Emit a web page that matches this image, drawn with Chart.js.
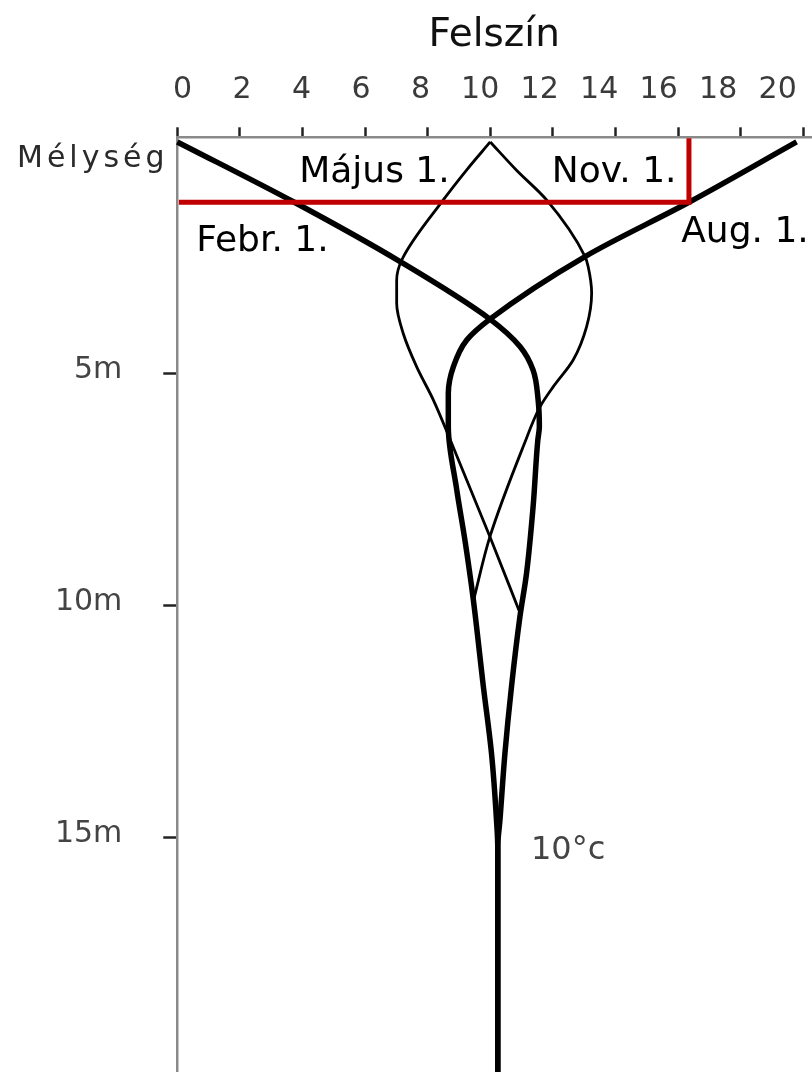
<!DOCTYPE html>
<html>
<head>
<meta charset="utf-8">
<script src="https://cdn.jsdelivr.net/npm/chart.js@4.4.1/dist/chart.umd.min.js"></script>
<style>
  html, body { margin: 0; padding: 0; background: #ffffff; }
  #wrap { width: 812px; height: 1072px; }
  canvas { display: block; }
</style>
</head>
<body>
<div id="wrap"><canvas id="soil" width="812" height="1072"></canvas></div>
<script>
// Temperature axis (°C) and depth axis (m)
const tempTicks = [0, 2, 4, 6, 8, 10, 12, 14, 16, 18, 20];
const depthTicks = [5, 10, 15];
const tempTitle = 'Felszín';
const depthTitle = 'Mélység';
const deepLabel = '10°c';

// Soil temperature profiles: depth (m) and temperature (°C)
const febrDepth = [0, 1.29, 2.58, 3.82, 4.41, 4.92, 5.56, 6.14, 6.43, 7.86, 9.30, 10.23, 11.74, 13.18, 14.62, 15.2, 20.05];
const febrTemp  = [0, 3.71, 7.12, 9.99, 10.95, 11.37, 11.53, 11.57, 11.52, 11.37, 11.16, 10.95, 10.68, 10.47, 10.31, 10.24, 10.24];

const majDepth = [0, 0.6, 1.25, 2.55, 2.98, 3.48, 4.13, 4.85, 5.56, 6.50, 8.51, 10.1];
const majTemp  = [10.0, 9.25, 8.50, 7.17, 7.01, 7.01, 7.22, 7.65, 8.18, 8.77, 9.99, 10.92];

const augDepth = [0, 1.29, 2.47, 3.82, 4.27, 4.85, 5.42, 6.14, 7.50, 8.58, 9.87, 11.74, 13.18, 14.62, 15.2, 20.05];
const augTemp  = [19.79, 16.38, 13.03, 9.99, 9.25, 8.82, 8.66, 8.66, 8.93, 9.19, 9.46, 9.78, 10.04, 10.20, 10.24, 10.24];

const novDepth = [0, 0.61, 1.25, 2.47, 2.69, 3.26, 3.98, 4.70, 5.28, 5.71, 6.54, 8.51, 9.9];
const novTemp  = [10.0, 10.84, 11.80, 13.03, 13.13, 13.24, 13.08, 12.65, 12.01, 11.59, 11.07, 9.99, 9.46];

// Highlight frame around the top layer
const frameTemp  = [0.05, 16.35, 16.35];
const frameDepth = [1.3, 1.3, -0.08];

// Curve names and where they are written (temperature, depth of baseline)
const curveNames = ['Febr. 1.', 'Május 1.', 'Aug. 1.', 'Nov. 1.'];
const nameTemp   = [2.72, 6.30, 18.14, 13.96];
const nameDepth  = [2.345, 0.858, 2.151, 0.858];
const deepLabelTemp = 12.49;
const deepLabelDepth = 15.46;

const FONT = 'DejaVu Sans';

function pts(t, d) { return t.map((v, i) => ({ x: v, y: d[i] })); }

function curve(label, t, d, width) {
  return {
    label,
    data: pts(t, d),
    borderColor: '#000000',
    borderWidth: width,
    pointRadius: 0,
    cubicInterpolationMode: 'monotone',
    fill: false,
    clip: false,
    order: 1
  };
}

// keep the axes from reserving room for label overflow
function noOverflow(s) {
  s.paddingTop = 0; s.paddingBottom = 0; s.paddingLeft = 0; s.paddingRight = 0;
}

const textPlugin = {
  id: 'profileText',
  afterDatasetsDraw(chart) {
    const ctx = chart.ctx;
    const xs = chart.scales.x, ys = chart.scales.y;
    ctx.save();
    ctx.fillStyle = '#000000';
    ctx.font = '36px "' + FONT + '"';
    ctx.textAlign = 'center';
    ctx.textBaseline = 'alphabetic';
    curveNames.forEach((n, i) => {
      ctx.fillText(n, xs.getPixelForValue(nameTemp[i]), ys.getPixelForValue(nameDepth[i]));
    });
    ctx.fillStyle = '#444444';
    ctx.font = '32px "' + FONT + '"';
    ctx.fillText(deepLabel, xs.getPixelForValue(deepLabelTemp), ys.getPixelForValue(deepLabelDepth));
    // depth axis caption, left of the surface line
    ctx.fillStyle = '#2a2a2a';
    ctx.font = '30px "' + FONT + '"';
    ctx.textAlign = 'left';
    ctx.letterSpacing = '4px';
    ctx.fillText(depthTitle, 17, ys.getPixelForValue(0.53));
    ctx.restore();
  }
};

new Chart(document.getElementById('soil'), {
  type: 'line',
  data: {
    datasets: [
      {
        label: 'frame',
        data: pts(frameTemp, frameDepth),
        borderColor: '#c00000',
        borderWidth: 5,
        pointRadius: 0,
        tension: 0,
        fill: false,
        clip: false,
        order: 0
      },
      curve(curveNames[0], febrTemp, febrDepth, 5.5),
      curve(curveNames[1], majTemp, majDepth, 2.8),
      curve(curveNames[2], augTemp, augDepth, 5.5),
      curve(curveNames[3], novTemp, novDepth, 2.8)
    ]
  },
  options: {
    responsive: false,
    animation: false,
    devicePixelRatio: 1,
    indexAxis: 'y',
    layout: { padding: { left: 0, right: 1, top: 0, bottom: 0 } },
    plugins: {
      legend: { display: false },
      tooltip: { enabled: false },
      title: { display: false }
    },
    scales: {
      x: {
        type: 'linear',
        position: 'top',
        min: 0,
        max: 20.25,
        weight: 0,
        afterBuildTicks: s => { s.ticks = tempTicks.map(v => ({ value: v })); },
        afterFit: s => { s.height = 12; noOverflow(s); },
        ticks: { display: false },
        grid: { display: true, drawOnChartArea: false, drawTicks: true, tickLength: 10, tickColor: '#222222', tickWidth: 2.5 },
        border: { display: true, color: '#8a8a8a', width: 2.5 }
      },
      x2: {
        type: 'linear',
        axis: 'x',
        position: 'top',
        min: -0.18,
        max: 21.12,
        weight: 1,
        afterBuildTicks: s => { s.ticks = tempTicks.map(v => ({ value: v })); },
        afterFit: s => { s.height = 125.3; noOverflow(s); },
        ticks: { font: { family: FONT, size: 30 }, color: '#3a3a3a', padding: 9, maxRotation: 0, autoSkip: false },
        grid: { display: false },
        border: { display: false },
        title: { display: true, text: tempTitle, font: { family: FONT, size: 39 }, color: '#111111', padding: { top: 12, bottom: 0 } }
      },
      y: {
        type: 'linear',
        position: 'left',
        reverse: true,
        min: -0.1,
        max: 20.05,
        afterBuildTicks: s => { s.ticks = depthTicks.map(v => ({ value: v })); },
        afterFit: s => { s.width = 177.3; noOverflow(s); },
        ticks: { font: { family: FONT, size: 30 }, color: '#444444', padding: 41, labelOffset: -4, callback: v => v + 'm' },
        grid: { display: true, drawOnChartArea: false, drawTicks: true, tickLength: 14, tickColor: '#222222', tickWidth: 2.5 },
        border: { display: true, color: '#8a8a8a', width: 2.5 }
      }
    }
  },
  plugins: [textPlugin]
});
</script>
</body>
</html>
